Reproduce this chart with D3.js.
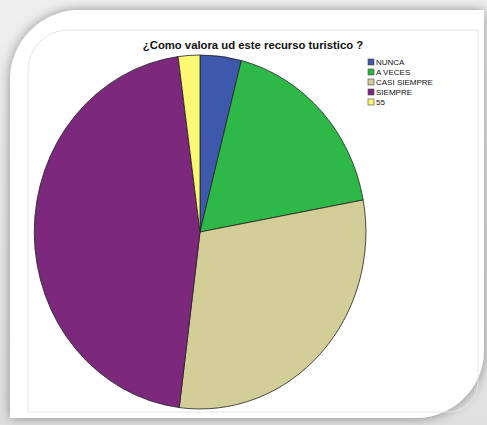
<!DOCTYPE html>
<html><head><meta charset="utf-8">
<script src="https://cdn.jsdelivr.net/npm/d3@7"></script>
<style>html,body{margin:0;padding:0;background:#fff;}svg{display:block;}</style>
</head><body>
<svg id="chart" width="487" height="425"></svg>
<script>
const title = "¿Como valora ud este recurso turistico ?";
const categories = ["NUNCA", "A VECES", "CASI SIEMPRE", "SIEMPRE", "55"];
const values = [4.0, 18.1, 29.9, 45.9, 2.1];
const colors = ["#3E58AC", "#2EB848", "#D3CE97", "#7C287D", "#FBF873"];

const svg = d3.select("#chart");
const W = 487, H = 425;
const defs = svg.append("defs");
const g1 = defs.append("linearGradient").attr("id","bg").attr("x1",0).attr("y1",0).attr("x2",0).attr("y2",1);
g1.append("stop").attr("offset","0%").attr("stop-color","#efefef");
g1.append("stop").attr("offset","100%").attr("stop-color","#e0e0e0");
const f = defs.append("filter").attr("id","sh").attr("x","-10%").attr("y","-10%").attr("width","120%").attr("height","120%");
f.append("feDropShadow").attr("dx",0).attr("dy",0).attr("stdDeviation",6).attr("flood-color","#000").attr("flood-opacity",0.4);

svg.append("rect").attr("width",W).attr("height",H).attr("fill","url(#bg)");
// card
const card = d3.path();
card.moveTo(10, 80); card.arcTo(10, 10, 80, 10, 70); card.lineTo(484, 10);
card.arcTo(484, 418, 416, 418, 68);
card.lineTo(10, 418); card.closePath();
svg.append("path").attr("d", card.toString()).attr("fill","#fff").attr("filter","url(#sh)");
// inner frame
const fr = d3.path();
fr.moveTo(28, 70); fr.arcTo(28, 30, 68, 30, 40); fr.lineTo(478, 30);
fr.lineTo(478, 382); fr.arcTo(478, 412, 448, 412, 30); fr.lineTo(28, 412); fr.closePath();
svg.append("path").attr("d", fr.toString()).attr("fill","none").attr("stroke","#e6e6e6").attr("stroke-width",1);

svg.append("text").attr("x",253).attr("y",49).attr("text-anchor","middle")
  .attr("font-family","Liberation Sans, Arial, sans-serif").attr("font-weight","bold")
  .attr("font-size",11.3).attr("fill","#111").text(title);

const cx = 200, cy = 232, rx = 166, ry = 177;
const pie = d3.pie().sort(null).value(d => d.v);
const data = pie(categories.map((c,i)=>({c, v: values[i], col: colors[i]})));
const arc = d3.arc().innerRadius(0).outerRadius(1);
svg.append("g").attr("transform",`translate(${cx},${cy}) scale(${rx},${ry})`)
  .selectAll("path").data(data).join("path")
  .attr("d", arc).attr("fill", d => d.data.col)
  .attr("stroke","#222").attr("stroke-width",0.8).attr("vector-effect","non-scaling-stroke");

const lg = svg.append("g").attr("transform","translate(368,59)");
const rows = lg.selectAll("g").data(categories).join("g").attr("transform",(d,i)=>`translate(0,${i*10})`);
rows.append("rect").attr("width",6).attr("height",6).attr("fill",(d,i)=>colors[i]).attr("stroke","#444").attr("stroke-width",0.6);
rows.append("text").attr("x",8).attr("y",6).attr("font-family","Liberation Sans, Arial, sans-serif")
  .attr("font-size",8).attr("fill","#111").text(d=>d);
</script>
</body></html>
